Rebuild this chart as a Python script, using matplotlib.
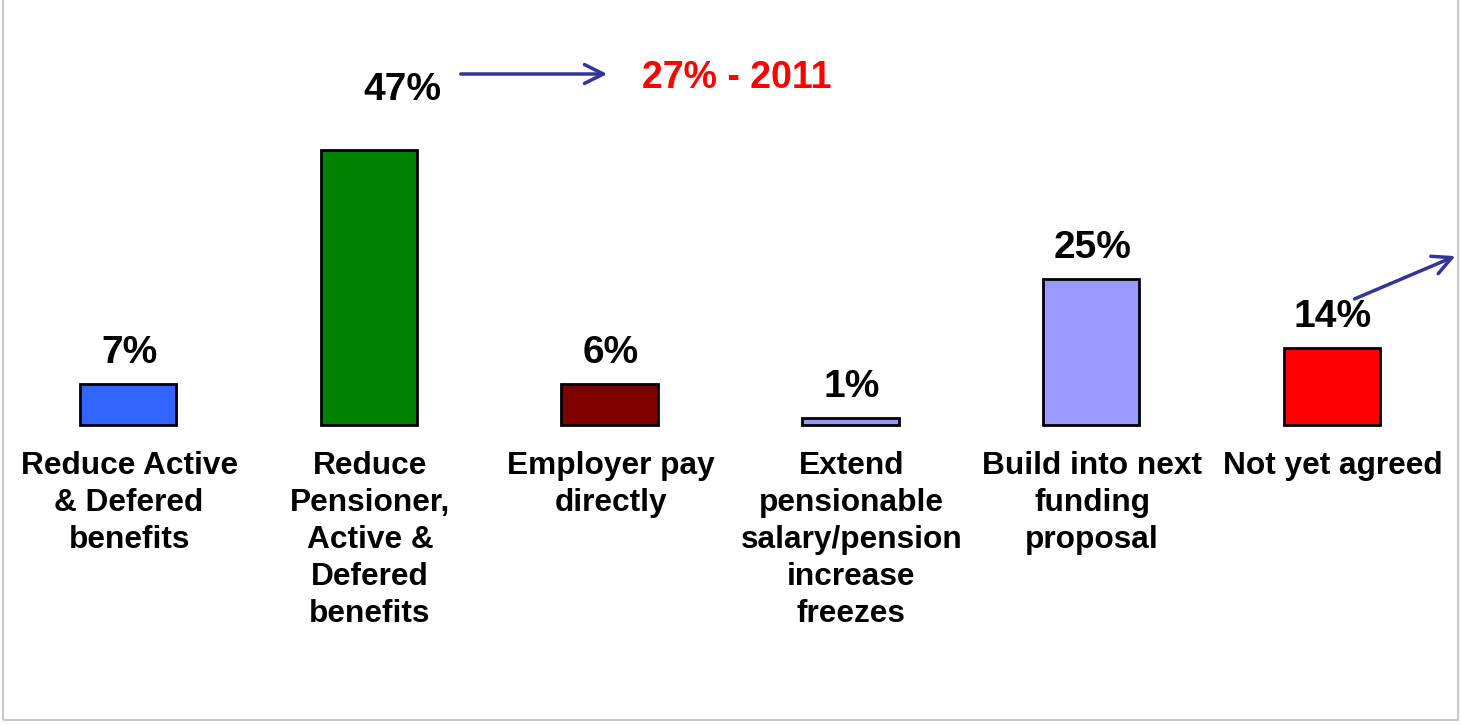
import matplotlib.pyplot as plt
from matplotlib.patches import Rectangle

# dados do grafico
categorias = ["Reduce Active\n& Defered\nbenefits",
              "Reduce\nPensioner,\nActive &\nDefered\nbenefits",
              "Employer pay\ndirectly",
              "Extend\npensionable\nsalary/pension\nincrease\nfreezes",
              "Build into next\nfunding\nproposal",
              "Not yet agreed"]
alturas = [7, 47, 7, 1.2, 25, 13.2]   # altura desenhada das barras
rotulos = ["7%", "47%", "6%", "1%", "25%", "14%"]
cores = ["#3366FF", "#008000", "#800000", "#9999FF", "#9999FF", "#FF0000"]
nota = "27% - 2011"

plt.rcParams['font.family'] = ['Liberation Sans', 'DejaVu Sans']

fig = plt.figure(figsize=(14.61, 7.25), dpi=100)
ax = fig.add_axes([0, 0, 1, 1])
ax.set_xlim(-0.532, 5.536)
ax.set_ylim(-51.3, 72.65)
ax.axis('off')

x = list(range(len(alturas)))
ax.bar(x, alturas, width=0.40, color=cores, edgecolor='black', linewidth=2)

# rotulos de valor (o de 47% fica mais alto e deslocado por causa da seta)
for i, (h, r) in enumerate(zip(alturas, rotulos)):
    dx, dy = (34, 60) if i == 1 else (1, 31)
    ax.annotate(r, xy=(i, h), xytext=(dx, dy), textcoords='offset pixels',
                ha='center', va='center', fontsize=28, fontweight='bold')

# rotulos das categorias
for i, c in enumerate(categorias):
    ax.annotate(c, xy=(i, 0), xytext=(1, -26), textcoords='offset pixels',
                ha='center', va='top', fontsize=22.8, fontweight='bold',
                linespacing=1.3)

# seta e nota de 2011
ax.annotate('', xy=(610, 725 - 74), xytext=(458, 725 - 74), xycoords='figure pixels',
            arrowprops=dict(arrowstyle='->', color='#333399', lw=2.5, mutation_scale=34))
fig.text(737 / 1461, 1 - 78 / 725, nota, color='red', fontsize=27, fontweight='bold',
         ha='center', va='center')

# seta do ultimo grupo
ax.annotate('', xy=(1458, 725 - 255), xytext=(1352, 725 - 300), xycoords='figure pixels',
            arrowprops=dict(arrowstyle='->', color='#333399', lw=2.5, mutation_scale=34))

# moldura cinza
fig.patches.append(Rectangle((3 / 1461, 5 / 725), 1455 / 1461, 730 / 725,
                             transform=fig.transFigure, fill=False,
                             edgecolor='#C8C8C8', linewidth=1.5))

fig.savefig('out.png', dpi=100)
